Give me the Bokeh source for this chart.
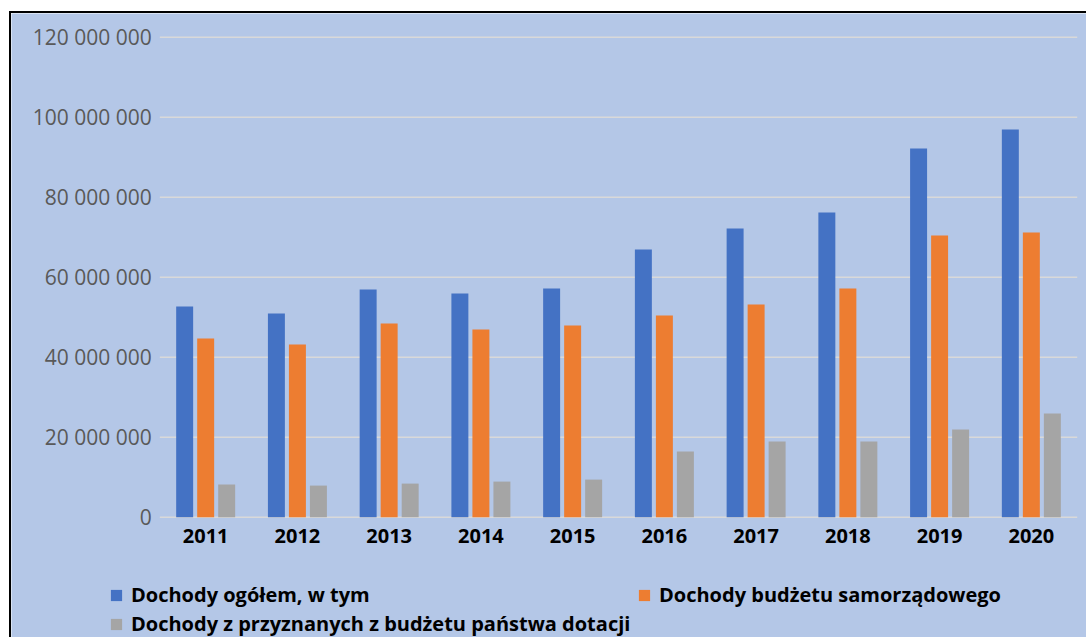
from bokeh.plotting import figure
from bokeh.models import (ColumnDataSource, Range1d, Legend, LegendItem, LinearAxis,
                          FixedTicker, CustomJSTickFormatter)
from bokeh.transform import dodge
from bokeh.embed import file_html
from bokeh.resources import INLINE

years = ["2011", "2012", "2013", "2014", "2015", "2016", "2017", "2018", "2019", "2020"]
total = [52700000, 50900000, 56900000, 55900000, 57200000, 66900000, 72200000, 76200000, 92200000, 96900000]
own = [44700000, 43200000, 48400000, 46900000, 47900000, 50400000, 53200000, 57200000, 70400000, 71200000]
grants = [8200000, 7900000, 8400000, 8900000, 9400000, 16400000, 18900000, 18900000, 21900000, 25900000]
series_names = ["Dochody ogółem, w tym", "Dochody budżetu samorządowego",
                "Dochody z przyznanych z budżetu państwa dotacji"]
y_ticks = [0, 20000000, 40000000, 60000000, 80000000, 100000000, 120000000]

BG = "#B4C7E7"
GRID = "#D9D9D9"
colors = ["#4472C4", "#ED7D31", "#A5A5A5"]

idx = list(range(len(years)))
src = ColumnDataSource(dict(idx=idx, year=years, total=total, own=own, grants=grants))
n = len(years)
grid_src = ColumnDataSource(dict(x0=[-0.5] * len(y_ticks), x1=[n - 0.5] * len(y_ticks), y=y_ticks))

# one frame covering the whole canvas; plot area begins at x=-0.5 and y=0
p = figure(width=1077, height=626,
           x_range=Range1d(-2.1165, 9.623), y_range=Range1d(-30575000, 125925000),
           output_backend="svg", toolbar_location=None,
           x_axis_location=None, y_axis_location=None,
           min_border_left=0, min_border_right=0, min_border_top=0, min_border_bottom=0)
p.styles = {"border-left": "2px solid black", "border-top": "2px solid black",
            "margin-top": "11px", "margin-left": "9px"}

p.background_fill_color = BG
p.border_fill_color = BG
p.outline_line_color = None
p.grid.visible = False

p.segment(x0="x0", x1="x1", y0="y", y1="y", source=grid_src, line_color=GRID, line_width=1.5)

w = 0.185
off = 0.229
r1 = p.vbar(x=dodge("idx", -off), top="total", width=w, source=src,
            fill_color=colors[0], line_color=None)
r2 = p.vbar(x=dodge("idx", 0), top="own", width=w, source=src,
            fill_color=colors[1], line_color=None)
r3 = p.vbar(x=dodge("idx", off), top="grants", width=w, source=src,
            fill_color=colors[2], line_color=None)

xaxis = LinearAxis(fixed_location=0, ticker=FixedTicker(ticks=idx),
                   major_label_overrides={i: y for i, y in zip(idx, years)})
yaxis = LinearAxis(fixed_location=-0.5, ticker=FixedTicker(ticks=y_ticks))
yaxis.formatter = CustomJSTickFormatter(code="""
    if (tick == 0) return '0';
    return Math.round(tick).toString().replace(/\\B(?=(\\d{3})+(?!\\d))/g, ' ');
""")
for ax in (xaxis, yaxis):
    ax.axis_line_color = None
    ax.major_tick_line_color = None
    ax.minor_tick_line_color = None
yaxis.major_label_text_font = "Open Sans"
yaxis.major_label_text_font_size = "21px"
yaxis.major_label_text_color = "#595959"
yaxis.major_label_standoff = 2
xaxis.major_label_text_font = "Open Sans"
xaxis.major_label_text_font_style = "bold"
xaxis.major_label_text_font_size = "20px"
xaxis.major_label_text_color = "#000000"
xaxis.major_label_standoff = 6
p.add_layout(xaxis, "below")
p.add_layout(yaxis, "left")


def mk_legend(items, loc):
    return Legend(items=items, location=loc, orientation="vertical",
                  padding=0, margin=0, spacing=2, border_line_color=None,
                  background_fill_alpha=0, glyph_width=14, glyph_height=14,
                  label_standoff=8, label_height=20,
                  label_text_font="Open Sans", label_text_font_style="bold",
                  label_text_font_size="20px", label_text_color="#000000")


lg_a = mk_legend([LegendItem(label=series_names[0], renderers=[r1]),
                  LegendItem(label=series_names[2], renderers=[r3])], (98, 2))
lg_b = mk_legend([LegendItem(label=series_names[1], renderers=[r2])], (626, 31))
p.add_layout(lg_a, "center")
p.add_layout(lg_b, "center")

open("out.html", "w").write(file_html(p, INLINE))
